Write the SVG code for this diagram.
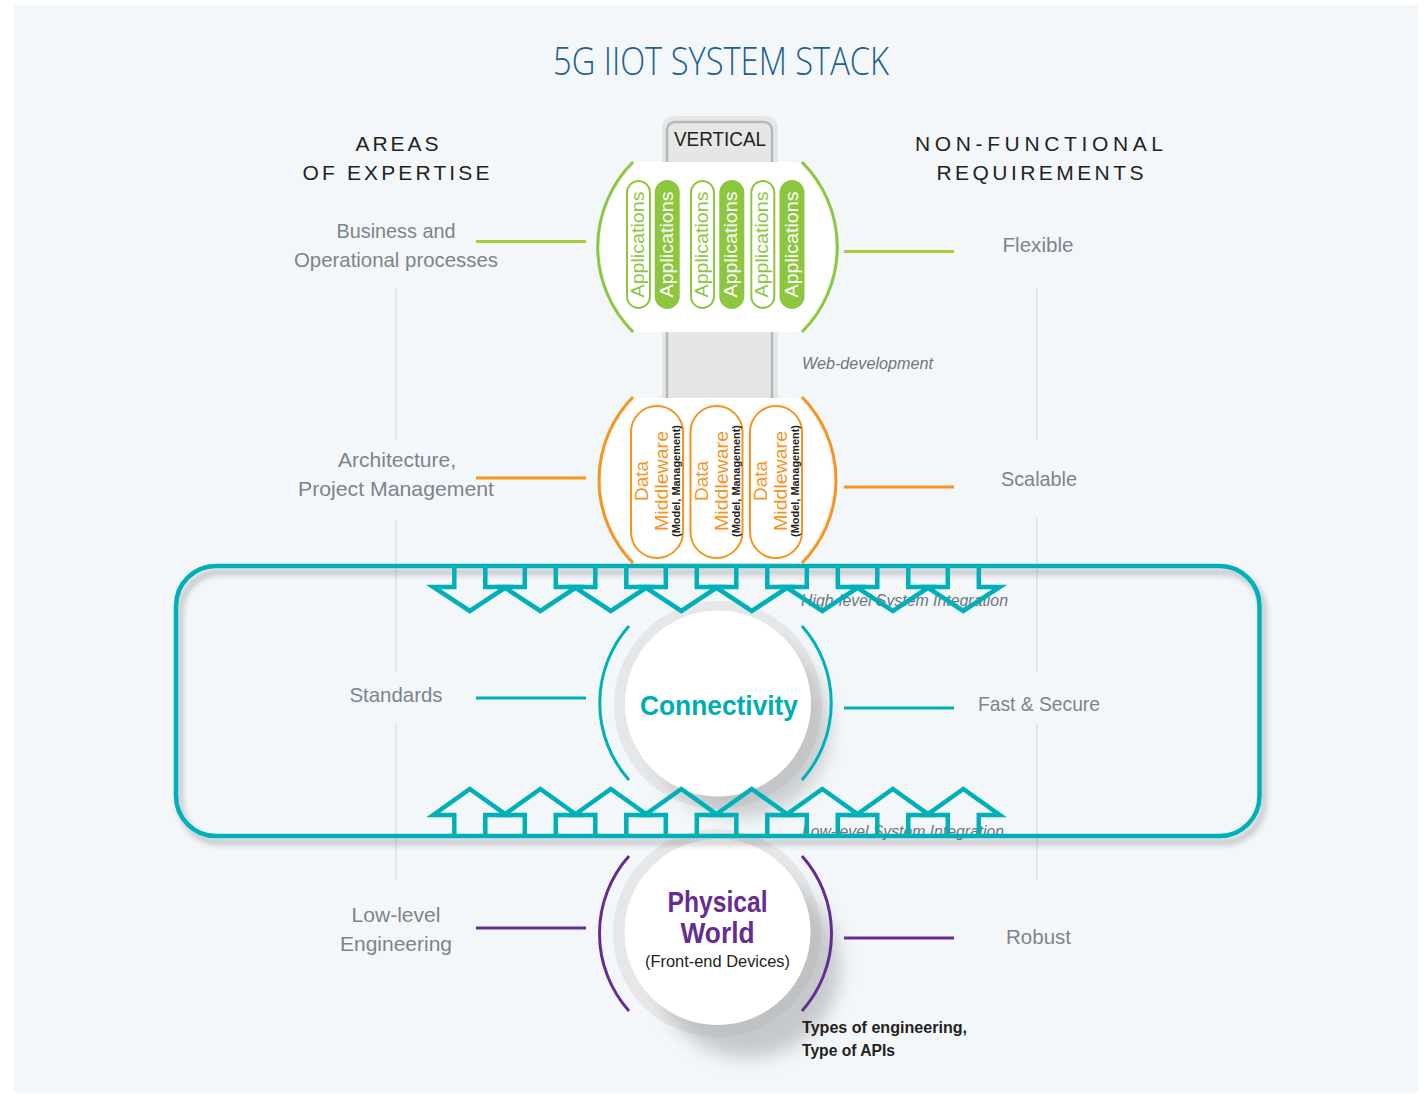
<svg xmlns="http://www.w3.org/2000/svg" xmlns:xlink="http://www.w3.org/1999/xlink" width="1427" height="1094" viewBox="0 0 1427 1094">
<style>
text { font-family: "Liberation Sans", Arial, sans-serif; }
.title { font-size: 38px; fill: #1d5f8f; text-anchor: middle; font-family: "Open Sans", "Liberation Sans", sans-serif; font-weight: 300; }
.head { font-size: 21px; fill: #231f20; text-anchor: middle; }
.lbl { font-size: 21px; fill: #7b858c; text-anchor: middle; }
.it { font-size: 16px; fill: #6d767d; font-style: italic; }
.guide { stroke: #dde2e6; stroke-width: 1.5; fill: none; }
.appO { fill: #ffffff; stroke: #8dc63f; stroke-width: 2; }
.appF { fill: #8dc63f; stroke: #8dc63f; stroke-width: 2; }
.appTO { font-size: 19px; fill: #8dc63f; text-anchor: middle; }
.appTF { font-size: 19px; fill: #ffffff; text-anchor: middle; }
.mw { fill: #ffffff; stroke: #f7941d; stroke-width: 2; }
.mwT { font-size: 19px; fill: #f7941d; text-anchor: middle; }
.mwS { font-size: 10.5px; fill: #231f20; font-weight: bold; text-anchor: middle; }
.arcG { fill: none; stroke: #8dc63f; stroke-width: 3; }
.arcO { fill: none; stroke: #f7941d; stroke-width: 3; }
.arcT { fill: none; stroke: #00b0b9; stroke-width: 3; }
.arcP { fill: none; stroke: #662d91; stroke-width: 3; }
.cG { stroke: #a6ce39; stroke-width: 3; }
.cO { stroke: #f7941d; stroke-width: 3; }
.cT { stroke: #00b0b9; stroke-width: 3; }
.cP { stroke: #662d91; stroke-width: 3; }
.arrow { fill: none; stroke: #00b0b9; stroke-width: 4.5; stroke-linejoin: miter; }
.ring { fill: #e6e7e9; }
</style>
<defs>
  <clipPath id="clipApps"><rect x="580" y="162" width="280" height="170"/></clipPath>
  <clipPath id="clipMw"><rect x="580" y="398" width="280" height="165"/></clipPath>
  <filter id="frameShadow" x="-5%" y="-15%" width="110%" height="135%">
    <feGaussianBlur in="SourceAlpha" stdDeviation="3"/>
    <feOffset dx="4" dy="6" result="o"/>
    <feComponentTransfer><feFuncA type="linear" slope="0.28"/></feComponentTransfer>
    <feMerge><feMergeNode/><feMergeNode in="SourceGraphic"/></feMerge>
  </filter>
  <filter id="soft" x="-50%" y="-50%" width="200%" height="200%">
    <feGaussianBlur stdDeviation="9"/>
  </filter>
  <path id="aDown" d="M -15.5 566 V 587 H -36.5 L 0 611 L 36.5 587 H 15.5 V 566"/>
  <path id="aUp" d="M -15.5 836 V 815 H -36.5 L 0 789 L 36.5 815 H 15.5 V 836"/>
</defs>

<rect x="0" y="0" width="1427" height="1094" fill="#ffffff"/>
<rect x="14" y="5" width="1404" height="1088" fill="#f3f7fa"/>

<text class="title" x="721" y="75" textLength="336" lengthAdjust="spacingAndGlyphs">5G IIOT SYSTEM STACK</text>

<g id="headings">
  <text class="head" x="397" y="151" textLength="83" lengthAdjust="spacing">AREAS</text>
  <text class="head" x="396" y="180" textLength="187" lengthAdjust="spacing">OF EXPERTISE</text>
  <text class="head" x="1039" y="151" textLength="248" lengthAdjust="spacing">NON-FUNCTIONAL</text>
  <text class="head" x="1040" y="180" textLength="207" lengthAdjust="spacing">REQUIREMENTS</text>
</g>

<g id="guides">
  <line class="guide" x1="396" y1="288" x2="396" y2="440"/>
  <line class="guide" x1="396" y1="520" x2="396" y2="672"/>
  <line class="guide" x1="396" y1="723" x2="396" y2="880"/>
  <line class="guide" x1="1037" y1="288" x2="1037" y2="440"/>
  <line class="guide" x1="1037" y1="518" x2="1037" y2="672"/>
  <line class="guide" x1="1037" y1="723" x2="1037" y2="880"/>
</g>

<g id="vertical">
  <rect x="662" y="116" width="116" height="300" rx="12" fill="#e4e7ea"/>
  <rect x="667" y="122" width="105" height="300" rx="8" fill="#e6e6e6" stroke="#b7b7b7" stroke-width="2.5"/>
  <text x="720" y="146" font-size="19.5" fill="#231f20" text-anchor="middle" textLength="92" lengthAdjust="spacingAndGlyphs">VERTICAL</text>
</g>

<g id="applications">
  <circle cx="717.5" cy="247" r="117" fill="#ffffff" clip-path="url(#clipApps)"/>
  <path class="arcG" d="M 633 162 A 120 120 0 0 0 633 332"/>
  <path class="arcG" d="M 802 162 A 120 120 0 0 1 802 332"/>
  <rect class="appO" x="627" y="181" width="23" height="127" rx="11.5"/>
  <rect class="appF" x="655.7" y="181" width="23" height="127" rx="11.5"/>
  <rect class="appO" x="691" y="181" width="23" height="127" rx="11.5"/>
  <rect class="appF" x="720.3" y="181" width="23" height="127" rx="11.5"/>
  <rect class="appO" x="751.3" y="181" width="23" height="127" rx="11.5"/>
  <rect class="appF" x="780.5" y="181" width="23" height="127" rx="11.5"/>
  <text class="appTO" transform="translate(638.5 244.5) rotate(-90)" x="0" y="5.5" textLength="106" lengthAdjust="spacingAndGlyphs">Applications</text>
  <text class="appTF" transform="translate(667.2 244.5) rotate(-90)" x="0" y="5.5" textLength="106" lengthAdjust="spacingAndGlyphs">Applications</text>
  <text class="appTO" transform="translate(702.5 244.5) rotate(-90)" x="0" y="5.5" textLength="106" lengthAdjust="spacingAndGlyphs">Applications</text>
  <text class="appTF" transform="translate(731.8 244.5) rotate(-90)" x="0" y="5.5" textLength="106" lengthAdjust="spacingAndGlyphs">Applications</text>
  <text class="appTO" transform="translate(762.8 244.5) rotate(-90)" x="0" y="5.5" textLength="106" lengthAdjust="spacingAndGlyphs">Applications</text>
  <text class="appTF" transform="translate(792 244.5) rotate(-90)" x="0" y="5.5" textLength="106" lengthAdjust="spacingAndGlyphs">Applications</text>
</g>

<g id="middleware">
  <circle cx="717.5" cy="480" r="115" fill="#ffffff" clip-path="url(#clipMw)"/>
  <path class="arcO" d="M 633 397 A 118.4 118.4 0 0 0 633 563"/>
  <path class="arcO" d="M 802 397 A 118.4 118.4 0 0 1 802 563"/>
  <rect class="mw" x="631" y="406" width="52" height="152" rx="26"/>
  <rect class="mw" x="690.5" y="406" width="52" height="152" rx="26"/>
  <rect class="mw" x="750" y="406" width="52" height="152" rx="26"/>
  <g transform="translate(657 481) rotate(-90)">
    <text class="mwT" x="0" y="-9">Data</text>
    <text class="mwT" x="0" y="11" textLength="100" lengthAdjust="spacingAndGlyphs">Middleware</text>
    <text class="mwS" x="0" y="23" textLength="112" lengthAdjust="spacingAndGlyphs">(Model, Management)</text>
  </g>
  <g transform="translate(716.5 481) rotate(-90)">
    <text class="mwT" x="0" y="-9">Data</text>
    <text class="mwT" x="0" y="11" textLength="100" lengthAdjust="spacingAndGlyphs">Middleware</text>
    <text class="mwS" x="0" y="23" textLength="112" lengthAdjust="spacingAndGlyphs">(Model, Management)</text>
  </g>
  <g transform="translate(776 481) rotate(-90)">
    <text class="mwT" x="0" y="-9">Data</text>
    <text class="mwT" x="0" y="11" textLength="100" lengthAdjust="spacingAndGlyphs">Middleware</text>
    <text class="mwS" x="0" y="23" textLength="112" lengthAdjust="spacingAndGlyphs">(Model, Management)</text>
  </g>
</g>

<g id="connectivity">
  <circle class="ring" cx="718" cy="705" r="104"/>
  <circle cx="740" cy="727" r="90" fill="#9a9c9f" opacity="0.45" filter="url(#soft)"/>
  <circle cx="718" cy="703.5" r="93" fill="#ffffff"/>
  <text x="719" y="715" font-size="28" font-weight="bold" fill="#00adb5" text-anchor="middle" textLength="158" lengthAdjust="spacingAndGlyphs">Connectivity</text>
  <path class="arcT" d="M 629 626 A 116 116 0 0 0 629 780"/>
  <path class="arcT" d="M 802 626 A 116 116 0 0 1 802 780"/>
</g>

<g id="physical-world">
  <circle class="ring" cx="717" cy="933" r="104"/>
  <circle cx="748" cy="966" r="92" fill="#9a9c9f" opacity="0.5" filter="url(#soft)"/>
  <circle cx="717.5" cy="932" r="93" fill="#ffffff"/>
  <text x="717.5" y="912" font-size="29" font-weight="bold" fill="#662d91" text-anchor="middle" textLength="100" lengthAdjust="spacingAndGlyphs">Physical</text>
  <text x="717.5" y="943" font-size="29" font-weight="bold" fill="#662d91" text-anchor="middle" textLength="74" lengthAdjust="spacingAndGlyphs">World</text>
  <text x="717.5" y="967" font-size="17" fill="#231f20" text-anchor="middle" textLength="145" lengthAdjust="spacingAndGlyphs">(Front-end Devices)</text>
  <path class="arcP" d="M 629 856 A 116.5 116.5 0 0 0 629 1011"/>
  <path class="arcP" d="M 802 856 A 116.5 116.5 0 0 1 802 1011"/>
</g>

<g id="connectors">
  <line class="cG" x1="476" y1="241.5" x2="586" y2="241.5"/>
  <line class="cG" x1="844" y1="251.5" x2="954" y2="251.5"/>
  <line class="cO" x1="476" y1="478" x2="586" y2="478"/>
  <line class="cO" x1="844" y1="487" x2="954" y2="487"/>
  <line class="cT" x1="476" y1="698" x2="586" y2="698"/>
  <line class="cT" x1="844" y1="708" x2="954" y2="708"/>
  <line class="cP" x1="476" y1="928" x2="586" y2="928"/>
  <line class="cP" x1="844" y1="938" x2="954" y2="938"/>
</g>

<g id="labels-left">
  <text class="lbl" x="396" y="238" textLength="119" lengthAdjust="spacingAndGlyphs">Business and</text>
  <text class="lbl" x="396" y="267" textLength="204" lengthAdjust="spacingAndGlyphs">Operational processes</text>
  <text class="lbl" x="397" y="467" textLength="118" lengthAdjust="spacingAndGlyphs">Architecture,</text>
  <text class="lbl" x="396" y="496" textLength="196" lengthAdjust="spacingAndGlyphs">Project Management</text>
  <text class="lbl" x="396" y="702" textLength="93" lengthAdjust="spacingAndGlyphs">Standards</text>
  <text class="lbl" x="396" y="922" textLength="89" lengthAdjust="spacingAndGlyphs">Low-level</text>
  <text class="lbl" x="396" y="951" textLength="112" lengthAdjust="spacingAndGlyphs">Engineering</text>
</g>

<g id="labels-right">
  <text class="lbl" x="1038" y="252" textLength="71" lengthAdjust="spacingAndGlyphs">Flexible</text>
  <text class="lbl" x="1039" y="486" textLength="76" lengthAdjust="spacingAndGlyphs">Scalable</text>
  <text class="lbl" x="1039" y="711" textLength="122" lengthAdjust="spacingAndGlyphs">Fast &amp; Secure</text>
  <text class="lbl" x="1038.5" y="944" textLength="65" lengthAdjust="spacingAndGlyphs">Robust</text>
</g>

<g id="annotations">
  <text class="it" x="802" y="369" textLength="131" lengthAdjust="spacingAndGlyphs">Web-development</text>
  <text class="it" x="801" y="606" textLength="207" lengthAdjust="spacingAndGlyphs">High-level System Integration</text>
  <text class="it" x="802" y="837" textLength="202" lengthAdjust="spacingAndGlyphs">Low-level System Integration</text>
  <text x="802" y="1033" font-size="16" font-weight="bold" fill="#231f20" textLength="165" lengthAdjust="spacingAndGlyphs">Types of engineering,</text>
  <text x="802" y="1056" font-size="16" font-weight="bold" fill="#231f20" textLength="93" lengthAdjust="spacingAndGlyphs">Type of APIs</text>
</g>

<g id="integration-frame">
  <rect x="176" y="566" width="1083.5" height="270" rx="40" fill="none" stroke="#00b0b9" stroke-width="4.5" filter="url(#frameShadow)"/>
  <g class="arrow">
    <use xlink:href="#aDown" x="469.8"/>
    <use xlink:href="#aDown" x="540.3"/>
    <use xlink:href="#aDown" x="610.8"/>
    <use xlink:href="#aDown" x="681.3"/>
    <use xlink:href="#aDown" x="751.8"/>
    <use xlink:href="#aDown" x="822.3"/>
    <use xlink:href="#aDown" x="892.8"/>
    <use xlink:href="#aDown" x="963.3"/>
    <use xlink:href="#aUp" x="469.8"/>
    <use xlink:href="#aUp" x="540.3"/>
    <use xlink:href="#aUp" x="610.8"/>
    <use xlink:href="#aUp" x="681.3"/>
    <use xlink:href="#aUp" x="751.8"/>
    <use xlink:href="#aUp" x="822.3"/>
    <use xlink:href="#aUp" x="892.8"/>
    <use xlink:href="#aUp" x="963.3"/>
  </g>
</g>
</svg>
